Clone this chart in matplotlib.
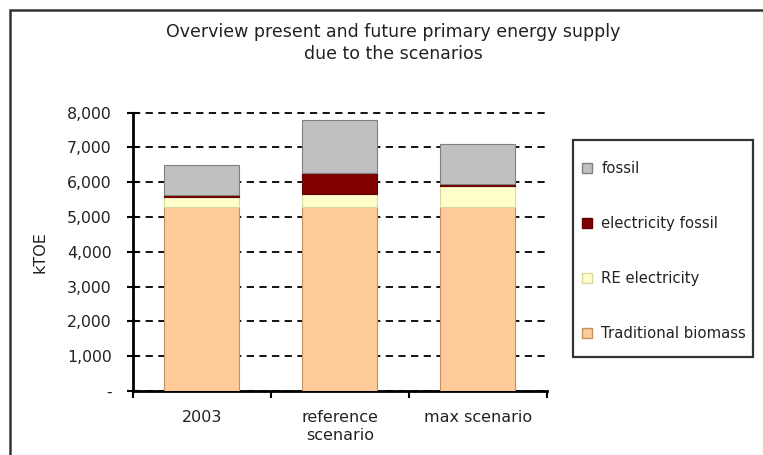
import matplotlib.pyplot as plt
from matplotlib.patches import Rectangle, Patch
from matplotlib.ticker import FuncFormatter
import numpy as np

plt.rcParams['font.family'] = ['DejaVu Sans']

categories = ['2003', 'reference\nscenario', 'max scenario']
biomass = [5300, 5300, 5300]
re_elec = [270, 370, 580]
elec_fossil = [70, 610, 70]
fossil = [870, 1500, 1160]

series = [
    ('Traditional biomass', biomass, '#ffcc99', '#c09060'),
    ('RE electricity', re_elec, '#ffffcc', '#d8d8a0'),
    ('electricity fossil', elec_fossil, '#800000', '#600000'),
    ('fossil', fossil, '#c0c0c0', '#808080'),
]

W, H = 763, 455
fig = plt.figure(figsize=(W / 100, H / 100), dpi=100)
ax = fig.add_axes([132.7 / W, 1 - 391 / H, (546.7 - 132.7) / W, (391 - 112.7) / H])

x = np.arange(len(categories))
bottom = np.zeros(len(categories))
handles = []
for name, vals, fc, ec in series:
    ax.bar(x, vals, 0.54, bottom=bottom, color=fc, edgecolor=ec, linewidth=0.8, zorder=3)
    bottom += np.array(vals)
    handles.append(Patch(facecolor=fc, edgecolor=ec, label=name))

ax.set_xlim(-0.5, 2.5)
ax.set_ylim(0, 8000)
ax.set_yticks(range(0, 8001, 1000))
ax.yaxis.set_major_formatter(FuncFormatter(lambda v, p: '-' if v == 0 else f'{int(v):,}'))
ax.grid(axis='y', color='black', linestyle=(0, (4, 3)), linewidth=1.3, zorder=0)
for gl in ax.get_ygridlines():
    gl.set_clip_on(False)
ax.set_axisbelow(True)

ax.set_xticks(x)
ax.set_xticklabels(categories, fontsize=11.5, color='#222222', linespacing=1.2)
ax.tick_params(axis='x', length=0, pad=14)
ax.set_xticks([-0.5, 0.5, 1.5, 2.5], minor=True)
ax.tick_params(axis='x', which='minor', length=5, width=1.5, direction='out')
ax.tick_params(axis='y', length=8, width=1.5, direction='inout', labelsize=11.3,
               labelcolor='#222222', pad=11)

for s in ['top', 'right']:
    ax.spines[s].set_visible(False)
for s in ['left', 'bottom']:
    ax.spines[s].set_linewidth(2)
ax.set_ylabel('kTOE', fontsize=11.5, color='#222222', labelpad=14)

fig.text(393 / W, 1 - 43 / H, 'Overview present and future primary energy supply\ndue to the scenarios',
         ha='center', va='center', fontsize=12.5, color='#222222', linespacing=1.25)

# outer chart frame and legend box
fig.patches.append(Rectangle((10 / W, -0.1), 1.2, 1 - 10 / H + 0.1, transform=fig.transFigure,
                             fill=False, edgecolor='#333333', linewidth=1.8))
fig.patches.append(Rectangle((572.7 / W, 1 - 357 / H), (753.3 - 572.7) / W, (357 - 140) / H,
                             transform=fig.transFigure, fill=False, edgecolor='#333333',
                             linewidth=1.6))

fig.legend(handles=handles[::-1], loc='upper left', bbox_to_anchor=(576 / W, 1 - 155 / H),
           frameon=False, fontsize=10.7, labelspacing=2.7, handlelength=0.7, handleheight=0.7,
           handletextpad=0.6, borderaxespad=0, labelcolor='#222222')

fig.savefig('out.png', dpi=100)
